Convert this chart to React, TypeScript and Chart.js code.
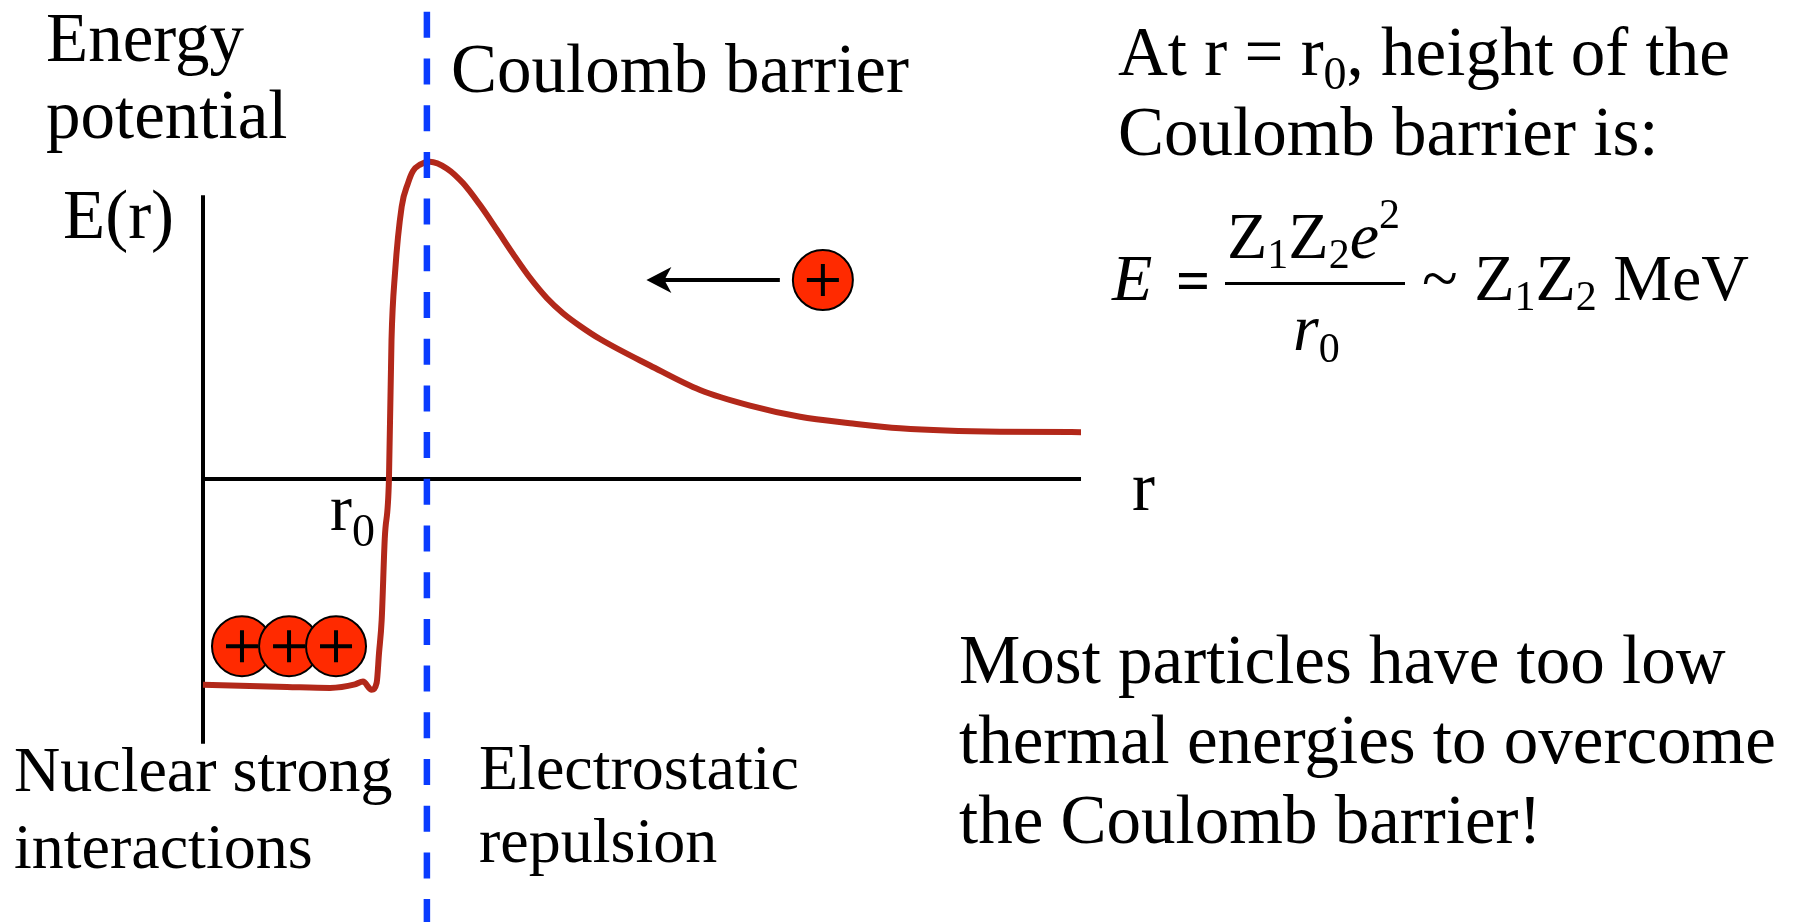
import React, { useEffect, useRef } from "react";
import { Chart, registerables } from "chart.js";

Chart.register(...registerables);

// ---- data (r in arbitrary length units, E in units of the barrier height) ----
const CURVE_R = [0, 0.957, 1.446, 1.731, 1.822, 1.921, 1.978, 2.005, 2.035, 2.07, 2.118, 2.147, 2.187, 2.263, 2.335, 2.392, 2.472, 2.585, 2.776, 2.961, 3.155, 3.349, 3.531, 3.724, 3.918, 4.1, 4.294, 4.522, 5.091, 5.661, 6.23, 6.8, 7.369, 7.938, 9.077, 10.0];
const CURVE_E = [-0.645, -0.652, -0.655, -0.644, -0.635, -0.661, -0.639, -0.545, -0.442, -0.188, 0, 0.436, 0.646, 0.854, 0.928, 0.966, 0.986, 0.995, 0.974, 0.928, 0.859, 0.781, 0.706, 0.631, 0.567, 0.52, 0.48, 0.439, 0.356, 0.279, 0.23, 0.195, 0.175, 0.159, 0.148, 0.147];

const Y_AXIS_E = [0.89, -0.83];
const X_AXIS_R = [0, 10];
const BARRIER_R = 2.55;
const BARRIER_E = [1.465, -1.389];
const NUCLEUS_R = [0.444, 0.98, 1.515];
const NUCLEUS_E = -0.524;
const PROTON_R = 7.06;
const PROTON_E = 0.624;
const ARROW_R = [6.57, 5.05];

const X_MIN = -2.312;
const X_MAX = 18.166;
const Y_MIN = -1.389;
const Y_MAX = 1.502;

const FONT = '"Liberation Serif", "Times New Roman", Times, serif';

type Run = { t: string; size: number; dy?: number; italic?: boolean; bold?: boolean; dx?: number };

function drawRuns(ctx: CanvasRenderingContext2D, x: number, y: number, runs: Run[]) {
  let cx = x;
  for (const r of runs) {
    ctx.font = `${r.italic ? "italic " : ""}${r.bold ? "bold " : ""}${r.size}px ${FONT}`;
    cx += r.dx || 0;
    ctx.fillText(r.t, cx, y + (r.dy || 0));
    cx += ctx.measureText(r.t).width;
  }
}

const annotations = {
  id: "annotations",
  afterDatasetsDraw(chart: any) {
    const ctx: CanvasRenderingContext2D = chart.ctx;
    const xs = chart.scales.x;
    const ys = chart.scales.y;
    ctx.save();
    // arrow
    const ay = ys.getPixelForValue(PROTON_E);
    const ax0 = xs.getPixelForValue(ARROW_R[0]);
    const ax1 = xs.getPixelForValue(ARROW_R[1]);
    ctx.strokeStyle = "#000";
    ctx.fillStyle = "#000";
    ctx.lineWidth = 4;
    ctx.beginPath();
    ctx.moveTo(ax0, ay);
    ctx.lineTo(ax1 + 10, ay);
    ctx.stroke();
    ctx.beginPath();
    ctx.moveTo(ax1, ay);
    ctx.lineTo(ax1 + 25, ay - 13);
    ctx.lineTo(ax1 + 18, ay);
    ctx.lineTo(ax1 + 25, ay + 13);
    ctx.closePath();
    ctx.fill();
    ctx.restore();
  },
  afterDraw(chart: any) {
    const ctx: CanvasRenderingContext2D = chart.ctx;
    ctx.save();
    ctx.fillStyle = "#000";
    ctx.textBaseline = "alphabetic";
    ctx.textAlign = "left";
    const S = 69;
    drawRuns(ctx, 46, 61, [{ t: "Energy", size: S }]);
    drawRuns(ctx, 46, 138, [{ t: "potential", size: S }]);
    drawRuns(ctx, 63, 238, [{ t: "E(r)", size: S }]);
    drawRuns(ctx, 451, 92, [{ t: "Coulomb barrier", size: S }]);
    drawRuns(ctx, 1118, 75, [
      { t: "At r = r", size: S },
      { t: "0", size: 46, dy: 14 },
      { t: ", height of the", size: S },
    ]);
    drawRuns(ctx, 1118, 155, [{ t: "Coulomb barrier is:", size: S }]);
    // formula
    drawRuns(ctx, 1112, 300, [{ t: "E", size: 66, italic: true }]);
    drawRuns(ctx, 1176, 300, [{ t: "=", size: 60, bold: true }]);
    drawRuns(ctx, 1227, 258, [
      { t: "Z", size: 66 },
      { t: "1", size: 42, dy: 10 },
      { t: "Z", size: 66 },
      { t: "2", size: 42, dy: 10 },
      { t: "e", size: 66, italic: true },
      { t: "2", size: 42, dy: -30 },
    ]);
    ctx.fillRect(1225, 282, 180, 3);
    drawRuns(ctx, 1293, 350, [
      { t: "r", size: 66, italic: true },
      { t: "0", size: 42, dy: 12 },
    ]);
    drawRuns(ctx, 1422, 300, [
      { t: "~ Z", size: 66 },
      { t: "1", size: 42, dy: 10 },
      { t: "Z", size: 66 },
      { t: "2", size: 42, dy: 10 },
      { t: " MeV", size: 66 },
    ]);
    drawRuns(ctx, 1132, 510, [{ t: "r", size: S }]);
    drawRuns(ctx, 330, 530, [
      { t: "r", size: 66 },
      { t: "0", size: 46, dy: 16 },
    ]);
    drawRuns(ctx, 14, 791, [{ t: "Nuclear strong", size: 64 }]);
    drawRuns(ctx, 14, 868, [{ t: "interactions", size: 64 }]);
    drawRuns(ctx, 479, 789, [{ t: "Electrostatic", size: 64 }]);
    drawRuns(ctx, 479, 862, [{ t: "repulsion", size: 64 }]);
    drawRuns(ctx, 959, 683, [{ t: "Most particles have too low", size: S }]);
    drawRuns(ctx, 959, 763, [{ t: "thermal energies to overcome", size: S }]);
    drawRuns(ctx, 959, 843, [{ t: "the Coulomb barrier!", size: S }]);
    ctx.restore();
  },
};

export default function App() {
  const ref = useRef<HTMLCanvasElement | null>(null);
  useEffect(() => {
    if (!ref.current) return;
    const curve = CURVE_R.map((r, i) => ({ x: r, y: CURVE_E[i] }));
    const nuclei = [...NUCLEUS_R.map((r) => ({ x: r, y: NUCLEUS_E })), { x: PROTON_R, y: PROTON_E }];
    const chart = new Chart(ref.current, {
      type: "line",
      data: {
        datasets: [
          {
            label: "barrier",
            data: [{ x: BARRIER_R, y: BARRIER_E[0] }, { x: BARRIER_R, y: BARRIER_E[1] }],
            borderColor: "#0A3CFF",
            borderWidth: 6.5,
            borderDash: [26, 20.7],
            pointRadius: 0,
            order: 0,
          },
          {
            label: "plus",
            data: nuclei,
            showLine: false,
            pointStyle: "cross",
            pointRadius: 16,
            pointBorderWidth: 4,
            pointBorderColor: "#000",
            order: 1,
          },
          {
            label: "particles",
            data: nuclei,
            showLine: false,
            pointStyle: "circle",
            pointRadius: 30,
            pointBackgroundColor: "#FF2A00",
            pointBorderColor: "#000",
            pointBorderWidth: 2,
            order: 2,
          },
          {
            label: "E(r)",
            data: curve,
            borderColor: "#B2281A",
            borderWidth: 6,
            pointRadius: 0,
            cubicInterpolationMode: "monotone",
            order: 3,
          },
          {
            label: "x-axis",
            data: X_AXIS_R.map((r) => ({ x: r, y: 0 })),
            borderColor: "#000",
            borderWidth: 4,
            pointRadius: 0,
            order: 4,
          },
          {
            label: "y-axis",
            data: Y_AXIS_E.map((e) => ({ x: 0, y: e })),
            borderColor: "#000",
            borderWidth: 4,
            pointRadius: 0,
            order: 5,
          },
        ],
      },
      options: {
        animation: false,
        responsive: false,
        maintainAspectRatio: false,
        devicePixelRatio: 1,
        events: [],
        layout: { padding: 0, autoPadding: false },
        plugins: { legend: { display: false }, tooltip: { enabled: false } },
        scales: {
          x: { type: "linear", display: false, min: X_MIN, max: X_MAX },
          y: { type: "linear", display: false, min: Y_MIN, max: Y_MAX },
        },
      } as any,
      plugins: [annotations],
    });
    return () => chart.destroy();
  }, []);
  return (
    <div style={{ position: "fixed", left: 0, top: 0, width: 1798, height: 922, background: "#fff" }}>
      <canvas ref={ref} width={1798} height={922} style={{ display: "block", width: 1798, height: 922 }} />
    </div>
  );
}
